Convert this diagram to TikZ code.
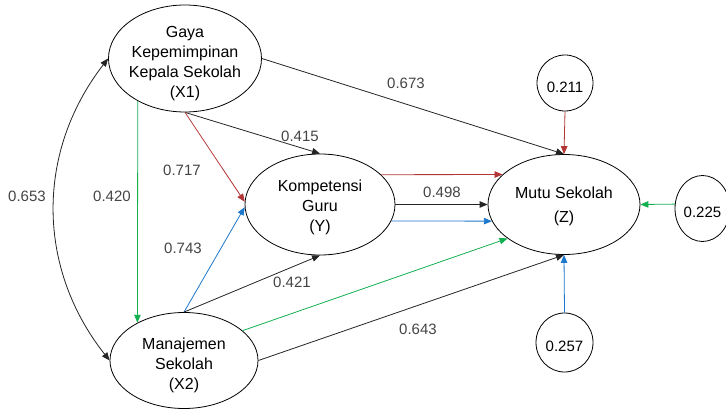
\documentclass[tikz,border=0pt]{standalone}
\usepackage{fontspec}
\setmainfont{Liberation Sans}
\usepackage[]{tikz}
\usetikzlibrary{shapes.geometric,arrows.meta}

\definecolor{pathred}{RGB}{178,52,52}
\definecolor{pathgreen}{RGB}{20,176,80}
\definecolor{pathblue}{RGB}{28,120,204}
\definecolor{pathblack}{RGB}{36,36,36}
\definecolor{coefgray}{RGB}{68,68,68}
% strut that pushes the node text a little below the middle
\newcommand{\pad}[1]{\rule{0pt}{#1}}

\begin{document}
\begin{tikzpicture}[x=1pt,y=-1pt,
  var/.style={draw,ellipse,line width=.8pt,inner xsep=-6pt,inner ysep=-8pt,align=center,font=\fontsize{16}{20}\selectfont},
  err/.style={draw,ellipse,line width=.8pt,inner xsep=-2pt,inner ysep=0pt,font=\fontsize{15}{18}\selectfont},
  coef/.style={text=coefgray,inner sep=0pt,font=\fontsize{15}{18}\selectfont},
  arr/.style={-{Triangle[length=8pt,width=6.5pt]},line width=.8pt,pathblack}]
\useasboundingbox (0,0) rectangle (726,409);

\node[var,minimum width=153pt,minimum height=107pt] (x1) at (185,58.5) {\pad{22pt}Gaya\\Kepemimpinan\\Kepala Sekolah\\(X1)};
\node[var,minimum width=150pt,minimum height=101pt] (y) at (320,204.5) {\pad{18pt}Kompetensi\\Guru\\(Y)};
\node[var,minimum width=152pt,minimum height=100pt] (z) at (564,204.5) {\pad{16pt}Mutu Sekolah\\[4pt](Z)};
\node[var,minimum width=148pt,minimum height=96pt] (x2) at (184,360.5) {\pad{22pt}Manajemen\\Sekolah\\(X2)};

\node[err,minimum width=56pt,minimum height=56pt] (e1) at (565,83) {\pad{19pt}0.211};
\node[err,minimum width=55pt,minimum height=66pt] (e2) at (702.5,208.5) {\pad{19pt}0.225};
\node[err,minimum width=57pt,minimum height=59pt] (e3) at (564.5,342.5) {\pad{19pt}0.257};

% correlation between the two exogenous variables
\draw[{Triangle[length=8pt,width=6.5pt]}-{Triangle[length=8pt,width=6.5pt]},line width=.8pt,pathblack] (x2.west) to[bend left=38] (x1.west);

\draw[arr] (x1.east) -- (z.north);
\draw[arr] (x1.south) -- (y.north);
\draw[arr,pathred] (x1.south) -- (y.178);
\draw[arr,pathgreen] (x1.-138) -- (x2.141);

\draw[arr,pathblue] (x2.north) -- (y.182);
\draw[arr] (x2.north) -- (y.south);
\draw[arr,pathgreen] (x2.27) -- (z.-149);
\draw[arr] (x2.east) -- (z.south);

\draw[arr,pathred] (y.26) -- (z.154);
\draw[arr] (y.east) -- (z.west);
\draw[arr,pathblue] (y.-13) -- (z.-167);

\draw[arr,pathred] (e1.south) -- (z.north);
\draw[arr,pathgreen] (e2.171) -- (z.east);
\draw[arr,pathblue] (e3.north) -- (z.south);

\node[coef] (r653) at (27,196) {0.653};
\node[coef] (r420) at (112,196) {0.420};
\node[coef] (r673) at (406,83) {0.673};
\node[coef] (r415) at (300,136) {0.415};
\node[coef] (r717) at (182,170) {0.717};
\node[coef] (r498) at (442,192) {0.498};
\node[coef] (r743) at (183,248) {0.743};
\node[coef] (r421) at (292,282) {0.421};
\node[coef] (r643) at (418,329) {0.643};
\end{tikzpicture}
\end{document}
